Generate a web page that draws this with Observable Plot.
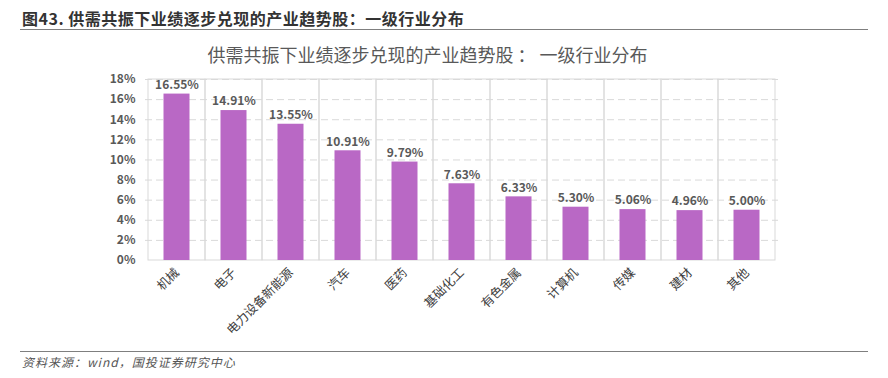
<!DOCTYPE html>
<html>
<head>
<meta charset="utf-8">
<script src="https://cdn.jsdelivr.net/npm/d3@7"></script>
<script src="https://cdn.jsdelivr.net/npm/@observablehq/plot@0.6"></script>
<style>
  html, body { margin: 0; padding: 0; background: #fff; }
  #page { position: relative; width: 888px; height: 378px; overflow: hidden; font-family: "Noto Sans CJK SC", "Noto Sans", sans-serif; }
  #hdr { position: absolute; left: 22px; top: 6px; font-size: 16px; font-weight: bold; color: #333; letter-spacing: 0.5px; }
  #hdrline { position: absolute; left: 20px; top: 29px; width: 848px; height: 0; border-top: 1.5px solid #7f7f7f; }
  #title { position: absolute; left: 0; width: 855px; top: 41px; text-align: center; font-size: 18px; color: #595959; }
  #plot { position: absolute; left: 0; top: 60px; }
  #footline { position: absolute; left: 20px; top: 351px; width: 848px; height: 0; border-top: 1.5px solid #7f7f7f; }
  #src { position: absolute; left: 22px; top: 353px; font-size: 12px; font-style: italic; color: #555; letter-spacing: 1px; }
</style>
</head>
<body>
<div id="page">
  <div id="hdr">图43. 供需共振下业绩逐步兑现的产业趋势股：一级行业分布</div>
  <div id="hdrline"></div>
  <div id="title">供需共振下业绩逐步兑现的产业趋势股 ： 一级行业分布</div>
  <div id="plot"></div>
  <div id="footline"></div>
  <div id="src">资料来源：wind，国投证券研究中心</div>
</div>
<script>
const categories = ["机械", "电子", "电力设备新能源", "汽车", "医药", "基础化工", "有色金属", "计算机", "传媒", "建材", "其他"];
const values = [16.55, 14.91, 13.55, 10.91, 9.79, 7.63, 6.33, 5.30, 5.06, 4.96, 5.00];
const yTicks = [0, 2, 4, 6, 8, 10, 12, 14, 16, 18];

const data = categories.map((c, i) => ({category: c, value: values[i]}));

const chart = Plot.plot({
  width: 888,
  height: 285,
  marginLeft: 145,
  marginRight: 110,
  marginTop: 19,
  marginBottom: 85,
  style: {fontFamily: '"Noto Sans CJK SC", "Noto Sans", sans-serif', background: "transparent"},
  x: {type: "band", domain: categories, padding: 0, label: null},
  y: {domain: [0, 18], label: null, ticks: yTicks},
  marks: [
    Plot.ruleY(yTicks.filter(d => d > 0), {stroke: "#d9d9d9", strokeDasharray: "7,4", strokeWidth: 1}),
    Plot.rect(categories, {x: d => d, y1: 0, y2: 18, fill: "none", stroke: "#d9d9d9", strokeWidth: 1}),
    Plot.barY(data, {x: "category", y: "value", fill: "#b968c5", insetLeft: 15.5, insetRight: 15.5}),
    Plot.text(data, {x: "category", y: "value", text: d => d.value.toFixed(2) + "%", dy: -9, fontWeight: "bold", fontSize: 12, fill: "#595959"}),
    Plot.axisY({ticks: yTicks, tickFormat: d => d + "%", tickSize: 0, tickPadding: 10, fontWeight: "bold", fontSize: 12, fill: "#595959", label: null}),
    Plot.axisX({tickSize: 0, tickPadding: 10, tickRotate: -45, fontSize: 12.5, fill: "#404040", label: null})
  ]
});
document.getElementById("plot").appendChild(chart);
</script>
</body>
</html>
